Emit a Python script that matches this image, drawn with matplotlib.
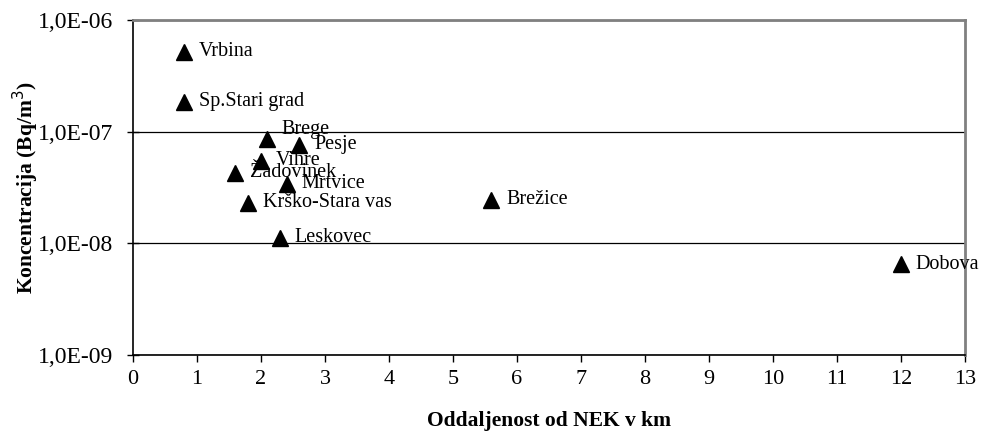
import numpy as np
import matplotlib.pyplot as plt

plt.rcParams['font.family'] = ['Liberation Serif', 'DejaVu Serif']

# ---- podatki ----
kraji = ["Vrbina", "Sp.Stari grad", "Brege", "Pesje", "Vihre", "Žadovinek",
         "Mrtvice", "Krško-Stara vas", "Leskovec", "Brežice", "Dobova"]
razdalja = [0.8, 0.8, 2.1, 2.6, 2.0, 1.6, 2.4, 1.8, 2.3, 5.6, 12.0]
koncentracija = [5.2e-7, 1.86e-7, 8.6e-8, 7.6e-8, 5.5e-8, 4.3e-8,
                 3.4e-8, 2.3e-8, 1.12e-8, 2.45e-8, 6.5e-9]

# zamiki napisov v tockah (dx, dy)
zamiki = {"Brege": (10, 6.5)}

fig = plt.figure(figsize=(9.82, 4.36), dpi=100)
ax = fig.add_axes([0.1354, 0.1858, 0.8473, 0.7683])

ax.plot(razdalja, koncentracija, linestyle='none', marker='^',
        markersize=11, color='black', clip_on=False)

for ime, x, y in zip(kraji, razdalja, koncentracija):
    dx, dy = zamiki.get(ime, (10.5, 0))
    ax.annotate(ime, (x, y), xytext=(dx, dy), textcoords='offset points',
                ha='left', va='center', fontsize=14.5, annotation_clip=False)

ax.set_yscale('log')
ax.set_ylim(1e-9, 1e-6)
ax.set_xlim(0, 13)
ax.set_xticks(np.arange(0, 14, 1))
ax.set_yticks([1e-9, 1e-8, 1e-7, 1e-6])
ax.set_yticklabels(["1,0E-09", "1,0E-08", "1,0E-07", "1,0E-06"])
ax.yaxis.set_minor_locator(plt.NullLocator())

ax.grid(True, axis='y', color='black', linewidth=0.9)
ax.tick_params(axis='x', direction='out', length=5, width=1, labelsize=16, pad=6)
ax.tick_params(axis='y', direction='inout', length=8, width=1, labelsize=17, pad=10)

for s in ['top', 'right']:
    ax.spines[s].set_color('#808080')
    ax.spines[s].set_linewidth(2)
for s in ['left', 'bottom']:
    ax.spines[s].set_color('black')
    ax.spines[s].set_linewidth(1.2)

ax.set_xlabel("Oddaljenost od NEK v km", fontsize=15.5, fontweight='bold', labelpad=16)
ax.set_ylabel("Koncentracija (Bq/m$^3$)", fontsize=15.5, fontweight='bold')
ax.yaxis.set_label_coords(-0.111, 0.5)

fig.savefig("out.png", dpi=100)
